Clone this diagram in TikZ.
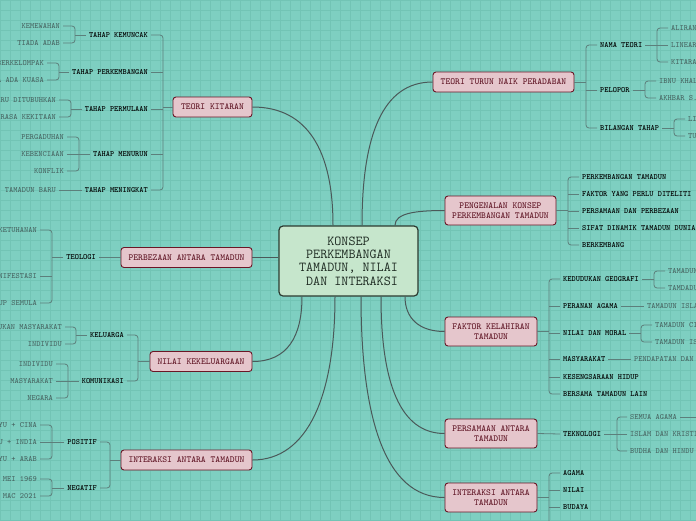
\documentclass[tikz,border=0pt]{standalone}
\usepackage{fontspec}
\definecolor{bg}{HTML}{7ECFC1}
\definecolor{gridc}{HTML}{72C4B5}
\definecolor{mainfill}{HTML}{E5C6CC}
\definecolor{mainborder}{HTML}{6A1626}
\definecolor{maintext}{HTML}{5A0E1E}
\definecolor{cfill}{HTML}{C6E6CC}
\definecolor{cborder}{HTML}{2C3A30}
\definecolor{ctext}{HTML}{1E2B22}
\definecolor{conc}{HTML}{4A5959}
\definecolor{brc}{HTML}{5C7F7B}
\definecolor{leafc}{HTML}{46625F}
\tikzset{
  mainbox/.style={draw=mainborder, fill=mainfill, text=maintext, line width=0.9pt, rounded corners=3pt,
    font=\ttfamily\fontsize{9.2}{10}\selectfont, align=center, inner xsep=3pt, inner ysep=2pt, minimum height=20pt},
  centerbox/.style={draw=cborder, fill=cfill, text=ctext, line width=1.2pt, rounded corners=4pt,
    font=\ttfamily\fontsize{13.7}{13.4}\selectfont, align=center, minimum width=139pt, minimum height=70pt},
  lsub/.style={font=\ttfamily\fontsize{8}{9}\selectfont\bfseries, text=black, inner xsep=3pt, inner ysep=1pt, anchor=east},
  rsub/.style={font=\ttfamily\fontsize{8}{9}\selectfont\bfseries, text=black, inner xsep=3pt, inner ysep=1pt, anchor=west},
  lleaf/.style={font=\ttfamily\fontsize{8}{9}\selectfont, text=leafc, inner xsep=3pt, inner ysep=1pt, anchor=east},
  rleaf/.style={font=\ttfamily\fontsize{8}{9}\selectfont, text=leafc, inner xsep=3pt, inner ysep=1pt, anchor=west},
  conn/.style={draw=conc, line width=1pt},
  br/.style={draw=brc, line width=0.8pt, rounded corners=3pt}
}
\newcommand{\bracketL}[3]{\draw[br] (#2.east) -- (#2.east -| #1) -- (#3.east -| #1) -- (#3.east);}
\newcommand{\stubL}[2]{\draw[br] (#2.east) -- (#2.east -| #1);}
\newcommand{\parL}[2]{\draw[br] (#2.west) -- (#2.west -| #1);}
\newcommand{\bracketR}[3]{\draw[br] (#2.west) -- (#2.west -| #1) -- (#3.west -| #1) -- (#3.west);}
\newcommand{\stubR}[2]{\draw[br] (#2.west) -- (#2.west -| #1);}
\newcommand{\parR}[2]{\draw[br] (#2.east) -- (#2.east -| #1);}
\begin{document}
\begin{tikzpicture}[x=1pt,y=-1pt]
\useasboundingbox (0,0) rectangle (696,520);
\clip (0,0) rectangle (696,520);
\fill[bg] (0,0) rectangle (696,520);
\foreach \g in {0,10,...,690} \draw[gridc, line width=0.5pt] (\g,0) -- (\g,520);
\foreach \g in {0,10,...,520} \draw[gridc, line width=0.5pt] (0,\g) -- (696,\g);

% ---------- central and main nodes
\node[centerbox] (C) at (348.5,261) {KONSEP\\PERKEMBANGAN\\TAMADUN, NILAI\\~DAN INTERAKSI};

\node[mainbox, minimum width=79pt] (mk) at (212.5,107) {TEORI KITARAN};
\node[mainbox, minimum width=131pt] (mp) at (186.5,257.5) {PERBEZAAN ANTARA TAMADUN};
\node[mainbox, minimum width=102pt] (mn) at (201,361.5) {NILAI KEKELUARGAAN};
\node[mainbox, minimum width=131pt] (mi) at (186.5,460) {INTERAKSI ANTARA TAMADUN};

\node[mainbox, minimum width=141pt] (mt) at (503.5,82) {TEORI TURUN NAIK PERADABAN};
\node[mainbox, minimum width=111pt, minimum height=29pt] (mg) at (500.5,210.5) {PENGENALAN KONSEP\\PERKEMBANGAN TAMADUN};
\node[mainbox, minimum width=92pt, minimum height=29pt] (mf) at (491,331.5) {FAKTOR KELAHIRAN\\TAMADUN};
\node[mainbox, minimum width=92pt, minimum height=29pt] (ms) at (491,433.5) {PERSAMAAN ANTARA\\TAMADUN};
\node[mainbox, minimum width=92pt, minimum height=29pt] (mj) at (491,497.5) {INTERAKSI ANTARA\\TAMADUN};

% ---------- central connectors
\draw[conn] ([xshift=-15.5pt]C.north) .. controls +(0,-75) and +(55,0) .. (mk.east);
\draw[conn] ([xshift=13.5pt]C.north) .. controls +(0,-90) and +(-50,0) .. (mt.west);
\draw[conn] ([xshift=46.5pt]C.north) .. controls +(0,-12) and +(-30,0) .. (mg.west);
\draw[conn] (mp.east) -- (mp.east -| C.west);
\draw[conn] ([xshift=-46.5pt]C.south) .. controls +(0,40) and +(35,0) .. (mn.east);
\draw[conn] ([xshift=-13.5pt]C.south) .. controls +(0,100) and +(55,0) .. (mi.east);
\draw[conn] ([xshift=12.5pt]C.south) .. controls +(0,120) and +(-60,0) .. (mj.west);
\draw[conn] ([xshift=32.5pt]C.south) .. controls +(0,85) and +(-45,0) .. (ms.west);
\draw[conn] ([xshift=56.5pt]C.south) .. controls +(0,22) and +(-25,0) .. (mf.west);

% ---------- TEORI KITARAN
\node[lsub] (k1) at (151,35) {TAHAP KEMUNCAK};
\node[lsub] (k2) at (151,72) {TAHAP PERKEMBANGAN};
\node[lsub] (k3) at (151,109) {TAHAP PERMULAAN};
\node[lsub] (k4) at (151,154) {TAHAP MENURUN};
\node[lsub] (k5) at (151,190) {TAHAP MENINGKAT};
\coordinate (bk) at (163,107);
\parL{bk}{mk}
\bracketL{bk}{k1}{k5}
\stubL{bk}{k2}\stubL{bk}{k3}\stubL{bk}{k4}

\node[lleaf] (k1a) at (63,26) {KEMEWAHAN};
\node[lleaf] (k1b) at (63,43) {TIADA ADAB};
\coordinate (bk1) at (75,35);
\parL{bk1}{k1}\bracketL{bk1}{k1a}{k1b}

\node[lleaf] (k2a) at (47,63) {HIDUP BERKELOMPAK};
\node[lleaf] (k2b) at (47,80) {KETUA ADA KUASA};
\coordinate (bk2) at (59,72);
\parL{bk2}{k2}\bracketL{bk2}{k2a}{k2b}

\node[lleaf] (k3a) at (59,100) {TAMADUN BARU DITUBUHKAN};
\node[lleaf] (k3b) at (59,117) {WUJUD RASA KEKITAAN};
\coordinate (bk3) at (71,109);
\parL{bk3}{k3}\bracketL{bk3}{k3a}{k3b}

\node[lleaf] (k4a) at (67,137) {PERGADUHAN};
\node[lleaf] (k4b) at (67,154) {KEBENCIAAN};
\node[lleaf] (k4c) at (67,171) {KONFLIK};
\coordinate (bk4) at (79,154);
\parL{bk4}{k4}\bracketL{bk4}{k4a}{k4c}\stubL{bk4}{k4b}

\node[lleaf] (k5a) at (59,190) {TAMADUN BARU};
\draw[br] (k5.west) -- (k5a.east);

% ---------- PERBEZAAN
\node[lsub] (p1) at (99,257.5) {TEOLOGI};
\draw[br] (mp.west) -- (p1.east);
\node[lleaf] (p1a) at (40,230) {KONSEP KETUHANAN};
\node[lleaf] (p1b) at (40,276) {MANIFESTASI};
\node[lleaf] (p1c) at (40,303) {HIDUP SEMULA};
\coordinate (bp1) at (52,257.5);
\parL{bp1}{p1}\bracketL{bp1}{p1a}{p1c}\stubL{bp1}{p1b}

% ---------- NILAI KEKELUARGAAN
\node[lsub] (n1) at (127,335) {KELUARGA};
\node[lsub] (n2) at (127,381) {KOMUNIKASI};
\coordinate (bn) at (138,361.5);
\parL{bn}{mn}\bracketL{bn}{n1}{n2}

\node[lleaf] (n1a) at (65,327) {PEMBENTUKAN MASYARAKAT};
\node[lleaf] (n1b) at (65,344) {INDIVIDU};
\coordinate (bn1) at (76,335);
\parL{bn1}{n1}\bracketL{bn1}{n1a}{n1b}

\node[lleaf] (n2a) at (56,364) {INDIVIDU};
\node[lleaf] (n2b) at (56,381) {MASYARAKAT};
\node[lleaf] (n2c) at (56,398) {NEGARA};
\coordinate (bn2) at (68,381);
\parL{bn2}{n2}\bracketL{bn2}{n2a}{n2c}\stubL{bn2}{n2b}

% ---------- INTERAKSI (left)
\node[lsub] (i1) at (100,442) {POSITIF};
\node[lsub] (i2) at (100,488) {NEGATIF};
\coordinate (bi) at (110,460);
\parL{bi}{mi}\bracketL{bi}{i1}{i2}

\node[lleaf] (i1a) at (40,425) {MELAYU + CINA};
\node[lleaf] (i1b) at (40,442) {MELAYU + INDIA};
\node[lleaf] (i1c) at (40,459) {MELAYU + ARAB};
\coordinate (bi1) at (52,442);
\parL{bi1}{i1}\bracketL{bi1}{i1a}{i1c}\stubL{bi1}{i1b}

\node[lleaf] (i2a) at (40,479) {13 MEI 1969};
\node[lleaf] (i2b) at (40,496) {14 MAC 2021};
\coordinate (bi2) at (52,488);
\parL{bi2}{i2}\bracketL{bi2}{i2a}{i2b}

% ---------- TEORI TURUN NAIK PERADABAN
\node[rsub] (t1) at (597,45) {NAMA TEORI};
\node[rsub] (t2) at (597,90) {PELOPOR};
\node[rsub] (t3) at (597,128) {BILANGAN TAHAP};
\coordinate (bt) at (586,82);
\parR{bt}{mt}\bracketR{bt}{t1}{t3}\stubR{bt}{t2}

\node[rleaf] (t1a) at (668,28) {ALIRAN TEORI};
\node[rleaf] (t1b) at (668,45) {LINEAR};
\node[rleaf] (t1c) at (668,62) {KITARAN};
\coordinate (bt1) at (657,45);
\parR{bt1}{t1}\bracketR{bt1}{t1a}{t1c}\stubR{bt1}{t1b}

\node[rleaf] (t2a) at (656,81) {IBNU KHALDUN};
\node[rleaf] (t2b) at (656,98) {AKHBAR S. AHMED};
\coordinate (bt2) at (645,90);
\parR{bt2}{t2}\bracketR{bt2}{t2a}{t2b}

\node[rleaf] (t3a) at (685,119) {LIMA};
\node[rleaf] (t3b) at (685,136) {TUJUH};
\coordinate (bt3) at (674,128);
\parR{bt3}{t3}\bracketR{bt3}{t3a}{t3b}

% ---------- PENGENALAN
\node[rsub] (g1) at (579,177) {PERKEMBANGAN TAMADUN};
\node[rsub] (g2) at (579,194) {FAKTOR YANG PERLU DITELITI};
\node[rsub] (g3) at (579,211) {PERSAMAAN DAN PERBEZAAN};
\node[rsub] (g4) at (579,228) {SIFAT DINAMIK TAMADUN DUNIA};
\node[rsub] (g5) at (579,245) {BERKEMBANG};
\coordinate (bg) at (568,211);
\parR{bg}{mg}\bracketR{bg}{g1}{g5}\stubR{bg}{g2}\stubR{bg}{g3}\stubR{bg}{g4}

% ---------- FAKTOR KELAHIRAN
\node[rsub] (f1) at (560,279) {KEDUDUKAN GEOGRAFI};
\node[rsub] (f2) at (560,306) {PERANAN AGAMA};
\node[rsub] (f3) at (560,333) {NILAI DAN MORAL};
\node[rsub] (f4) at (560,359) {MASYARAKAT};
\node[rsub] (f5) at (560,377) {KESENGSARAAN HIDUP};
\node[rsub] (f6) at (560,394) {BERSAMA TAMADUN LAIN};
\coordinate (bf) at (549,331.5);
\parR{bf}{mf}\bracketR{bf}{f1}{f6}\stubR{bf}{f2}\stubR{bf}{f3}\stubR{bf}{f4}\stubR{bf}{f5}

\node[rleaf] (f1a) at (665,271) {TAMADUN MESOPOTAMIA};
\node[rleaf] (f1b) at (665,288) {TAMDADUN MESIR};
\coordinate (bf1) at (654,279);
\parR{bf1}{f1}\bracketR{bf1}{f1a}{f1b}

\node[rleaf] (f2a) at (644,306) {TAMADUN ISLAM};
\draw[br] (f2.east) -- (f2a.west);

\node[rleaf] (f3a) at (652,325) {TAMADUN CINA};
\node[rleaf] (f3b) at (652,342) {TAMADUN ISLAM};
\coordinate (bf3) at (641,333);
\parR{bf3}{f3}\bracketR{bf3}{f3a}{f3b}

\node[rleaf] (f4a) at (631,359) {PENDAPATAN DAN PEKERJAAN};
\draw[br] (f4.east) -- (f4a.west);

% ---------- PERSAMAAN
\node[rsub] (s1) at (560,434) {TEKNOLOGI};
\draw[br] (ms.east) -- (s1.west);
\node[rleaf] (s1a) at (627,417) {SEMUA AGAMA};
\node[rleaf] (s1b) at (627,434) {ISLAM DAN KRISTIAN};
\node[rleaf] (s1c) at (627,451) {BUDHA DAN HINDU};
\coordinate (bs1) at (617,434);
\parR{bs1}{s1}\bracketR{bs1}{s1a}{s1c}\stubR{bs1}{s1b}
\coordinate (s1ax) at (705,417);
\draw[br] (s1a.east) -- (s1ax);

% ---------- INTERAKSI (right)
\node[rsub] (j1) at (560,473) {AGAMA};
\node[rsub] (j2) at (560,490) {NILAI};
\node[rsub] (j3) at (560,507) {BUDAYA};
\coordinate (bj) at (549,497.5);
\coordinate (bjend) at (549,540);
\parR{bj}{mj}
\draw[br] (j1.west) -- (j1.west -| bj) -- (bjend);
\stubR{bj}{j2}\stubR{bj}{j3}
\end{tikzpicture}
\end{document}
